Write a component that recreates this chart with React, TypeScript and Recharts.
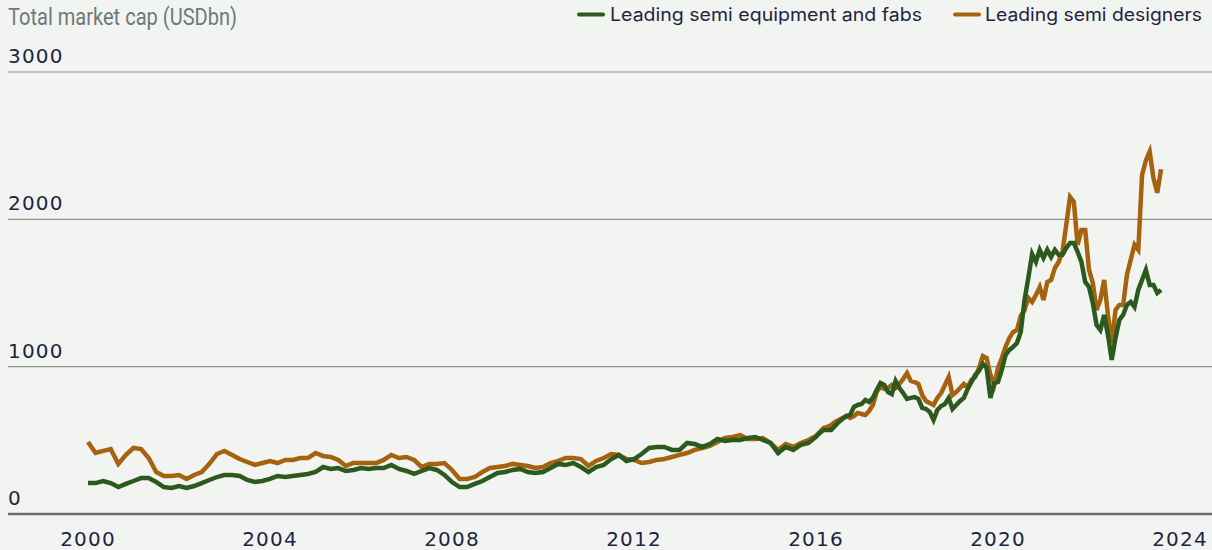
import { LineChart, Line, XAxis, YAxis, CartesianGrid } from "recharts"

// bi-monthly points up to 2015, monthly after
const dates = [
  "2000-01", "2000-03", "2000-05", "2000-07", "2000-09", "2000-11",
  "2001-01", "2001-03", "2001-05", "2001-07", "2001-09", "2001-11",
  "2002-01", "2002-03", "2002-05", "2002-07", "2002-09", "2002-11",
  "2003-01", "2003-03", "2003-05", "2003-07", "2003-09", "2003-11",
  "2004-01", "2004-03", "2004-05", "2004-07", "2004-09", "2004-11",
  "2005-01", "2005-03", "2005-05", "2005-07", "2005-09", "2005-11",
  "2006-01", "2006-03", "2006-05", "2006-07", "2006-09", "2006-11",
  "2007-01", "2007-03", "2007-05", "2007-07", "2007-09", "2007-11",
  "2008-01", "2008-03", "2008-05", "2008-07", "2008-09", "2008-11",
  "2009-01", "2009-03", "2009-05", "2009-07", "2009-09", "2009-11",
  "2010-01", "2010-03", "2010-05", "2010-07", "2010-09", "2010-11",
  "2011-01", "2011-03", "2011-05", "2011-07", "2011-09", "2011-11",
  "2012-01", "2012-03", "2012-05", "2012-07", "2012-09", "2012-11",
  "2013-01", "2013-03", "2013-05", "2013-07", "2013-09", "2013-11",
  "2014-01", "2014-03", "2014-05", "2014-07", "2014-09", "2014-11",
  "2015-01", "2015-03", "2015-05", "2015-07", "2015-09", "2015-11",
  "2016-01", "2016-02", "2016-03", "2016-04", "2016-05", "2016-06", "2016-07", "2016-08", "2016-09", "2016-10", "2016-11", "2016-12",
  "2017-01", "2017-02", "2017-03", "2017-04", "2017-05", "2017-06", "2017-07", "2017-08", "2017-09", "2017-10", "2017-11", "2017-12",
  "2018-01", "2018-02", "2018-03", "2018-04", "2018-05", "2018-06", "2018-07", "2018-08", "2018-09", "2018-10", "2018-11", "2018-12",
  "2019-01", "2019-02", "2019-03", "2019-04", "2019-05", "2019-06", "2019-07", "2019-08", "2019-09", "2019-10", "2019-11", "2019-12",
  "2020-01", "2020-02", "2020-03", "2020-04", "2020-05", "2020-06", "2020-07", "2020-08", "2020-09", "2020-10", "2020-11", "2020-12",
  "2021-01", "2021-02", "2021-03", "2021-04", "2021-05", "2021-06", "2021-07", "2021-08", "2021-09", "2021-10", "2021-11", "2021-12",
  "2022-01", "2022-02", "2022-03", "2022-04", "2022-05", "2022-06", "2022-07", "2022-08", "2022-09", "2022-10", "2022-11", "2022-12",
  "2023-01", "2023-02", "2023-03", "2023-04", "2023-05", "2023-06", "2023-07", "2023-08",
]

const equipmentFabs = [
  210, 210, 224, 210, 183, 204,
  224, 244, 244, 217, 183, 177,
  190, 177, 190, 210, 231, 251,
  265, 265, 258, 231, 217, 224,
  238, 258, 251, 258, 265, 272,
  285, 319, 306, 312, 292, 299,
  312, 306, 312, 312, 333, 306,
  292, 272, 292, 312, 299, 265,
  217, 183, 183, 204, 224, 251,
  278, 285, 299, 306, 285, 278,
  285, 312, 340, 333, 346, 319,
  285, 319, 333, 373, 401, 360,
  373, 407, 448, 455, 455, 435,
  435, 482, 475, 455, 475, 509,
  496, 502, 502, 516, 523, 502,
  482, 414, 455, 435, 469, 482,
  523, 550, 570, 570, 570, 598, 625, 645, 665, 672, 727, 740,
  747, 774, 761, 788, 842, 889, 876, 828, 814, 903, 855, 821,
  781, 788, 794, 781, 720, 713, 693, 638, 706, 733, 747, 788,
  713, 740, 767, 788, 849, 896, 944, 971, 1019, 991, 788, 889,
  896, 978, 1080, 1114, 1134, 1161, 1236, 1453, 1602, 1765, 1711, 1793,
  1738, 1793, 1745, 1793, 1759, 1759, 1806, 1840, 1840, 1779, 1711, 1575,
  1541, 1433, 1283, 1249, 1351, 1215, 1046, 1195, 1317, 1351, 1419, 1439,
  1405, 1521, 1589, 1657, 1555, 1555, 1500, 1521,
]

const designers = [
  489, 414, 428, 441, 340, 401,
  448, 441, 380, 285, 258, 258,
  265, 238, 265, 285, 340, 407,
  428, 401, 373, 353, 333, 346,
  360, 346, 367, 367, 380, 380,
  414, 394, 387, 367, 326, 346,
  346, 346, 346, 367, 401, 380,
  387, 367, 319, 340, 340, 346,
  299, 238, 238, 251, 285, 312,
  319, 326, 340, 333, 326, 312,
  319, 346, 360, 380, 380, 373,
  326, 360, 380, 407, 401, 373,
  367, 346, 353, 367, 373, 387,
  401, 414, 435, 448, 462, 489,
  516, 523, 536, 509, 509, 516,
  482, 435, 475, 455, 482, 502,
  530, 557, 584, 591, 604, 625, 638, 652, 665, 652, 665, 686,
  679, 672, 699, 740, 828, 862, 849, 855, 876, 855, 883, 917,
  957, 903, 896, 883, 808, 767, 754, 740, 788, 821, 876, 930,
  808, 828, 855, 883, 862, 910, 930, 991, 1073, 1059, 944, 876,
  991, 1059, 1134, 1195, 1236, 1249, 1344, 1385, 1467, 1439, 1487, 1541,
  1453, 1575, 1589, 1670, 1711, 1779, 1962, 2152, 2118, 1827, 1928, 1928,
  1657, 1569, 1385, 1453, 1589, 1351, 1161, 1385, 1419, 1419, 1623, 1725,
  1827, 1793, 2302, 2400, 2460, 2280, 2180, 2340,
]

const yearTicks = [2000, 2004, 2008, 2012, 2016, 2020, 2024]
const valueTicks = [0, 1000, 2000, 3000]

const GREEN = "#2c5a1e"
const BROWN = "#a5620f"
const NAVY = "#1f2444"

const toYear = (d: string) => {
  const [y, m] = d.split("-").map(Number)
  return y + (m - 1) / 12
}

const data = dates.map((d, i) => ({
  date: d,
  t: toYear(d),
  fabs: equipmentFabs[i],
  designers: designers[i],
}))

function ValueTick({ y, payload }: any) {
  return (
    <text x={8} y={y - 9} fill={NAVY} fontSize={20} letterSpacing={1.2} fontFamily="DejaVu Sans">
      {payload.value}
    </text>
  )
}

function YearTick({ x, payload }: any) {
  return (
    <text x={x} y={546} textAnchor="middle" fill={NAVY} fontSize={20} letterSpacing={1.2} fontFamily="DejaVu Sans">
      {payload.value}
    </text>
  )
}

export default function App() {
  return (
    <div style={{ position: "absolute", left: 0, top: 0, width: 1212, height: 550, background: "#f2f4f1", overflow: "hidden" }}>
      <LineChart width={1212} height={550} data={data} margin={{ top: 72, right: 0, left: 7, bottom: 0 }}>
        <CartesianGrid vertical={false} stroke="#8c9190" strokeWidth={1.2} />
        <XAxis
          type="number"
          dataKey="t"
          domain={[1998.2418, 2024.7033]}
          ticks={yearTicks}
          allowDataOverflow
          height={36}
          tickLine={false}
          axisLine={{ stroke: "#6e6e6e", strokeWidth: 2.5 }}
          tick={<YearTick />}
        />
        <YAxis
          domain={[0, 3000]}
          ticks={valueTicks}
          width={1}
          axisLine={false}
          tickLine={false}
          tick={<ValueTick />}
        />
        <Line type="linear" dataKey="designers" stroke={BROWN} strokeWidth={4.5} dot={false} isAnimationActive={false} />
        <Line type="linear" dataKey="fabs" stroke={GREEN} strokeWidth={4.5} dot={false} isAnimationActive={false} />
      </LineChart>
      <svg width={1212} height={34} style={{ position: "absolute", left: 0, top: 0 }}>
        <text x={8} y={25} fontSize={23} fill="#6d7a77" fontFamily="Roboto" textLength={229} lengthAdjust="spacingAndGlyphs">
          Total market cap (USDbn)
        </text>
        <line x1={579} y1={14.5} x2={603} y2={14.5} stroke={GREEN} strokeWidth={4} strokeLinecap="round" />
        <text x={610} y={21} fontSize={18} fill={NAVY} fontFamily="Inter" textLength={312} lengthAdjust="spacingAndGlyphs">
          Leading semi equipment and fabs
        </text>
        <line x1={955} y1={14.5} x2={979} y2={14.5} stroke={BROWN} strokeWidth={4} strokeLinecap="round" />
        <text x={985} y={21} fontSize={18} fill={NAVY} fontFamily="Inter" textLength={217} lengthAdjust="spacingAndGlyphs">
          Leading semi designers
        </text>
      </svg>
    </div>
  )
}
